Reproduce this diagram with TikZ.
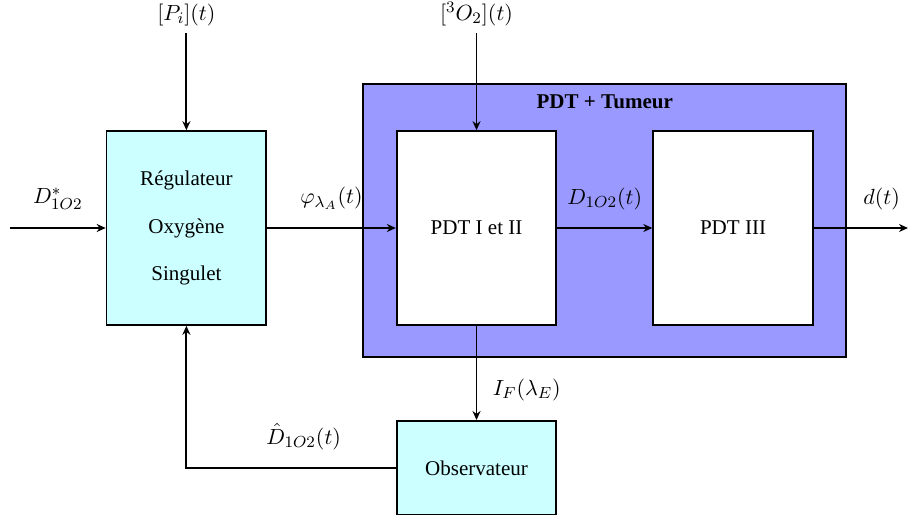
\documentclass[tikz,border=0pt,11pt]{standalone}
\usepackage{fontspec}
\setmainfont{Liberation Serif}
\usetikzlibrary{arrows.meta, positioning}
\definecolor{regcyan}{RGB}{204, 255, 255}
\definecolor{pdtblue}{RGB}{153, 153, 255}

\begin{document}
\begin{tikzpicture}[
    block/.style={rectangle, draw=black, line width=0.9pt, minimum width=2.8cm, minimum height=3.4cm, align=center, font=\fontsize{10.5}{12}\selectfont},
    arrow/.style={-{Stealth[length=4.5pt, width=4pt]}, line width=0.9pt},
]
\useasboundingbox (0,0) rectangle (15.965,-9.035);

% PDT + Tumeur
\node[rectangle, draw=black, line width=0.9pt, fill=pdtblue, minimum width=8.47cm, minimum height=4.79cm] (pdt) at (10.61,-3.87) {};
\node[font=\fontsize{10.5}{12}\selectfont\bfseries, below=2pt] (title) at (pdt.north) {PDT + Tumeur};

% Blocks
\node[block, fill=regcyan] (reg) at (3.27,-4.0) {Régulateur\\[11.5pt]Oxygène\\[11.5pt]Singulet};
\node[block, fill=white] (pdt12) at (8.36,-4.0) {PDT I et II};
\node[block, fill=white] (pdt3) at (12.86,-4.0) {PDT III};
\node[block, fill=regcyan, minimum height=1.65cm] (obs) at (8.36,-8.21) {Observateur};

% Inputs
\node[above=1.7cm of reg] (pi) {$[P_i](t)$};
\node[above=1.7cm of pdt12] (o2) {$[{}^3O_2](t)$};
\coordinate (in) at (0.175,-4.0);
\coordinate (out) at (15.93,-4.0);

\draw[arrow] (pi) -- (reg);
\draw[arrow] (o2) -- (pdt12);
\draw[arrow] (in) -- (reg) node[midway, above=5pt] {$D^*_{1O2}$};
\draw[arrow] (reg) -- (pdt12) node[midway, above=5pt] {$\varphi_{\lambda_A}(t)$};
\draw[arrow] (pdt12) -- (pdt3) node[midway, above=5pt] {$D_{1O2}(t)$};
\draw[arrow] (pdt3) -- (out) node[pos=1, above left=5pt and 0pt] {$d(t)$};

% Feedback
\draw[arrow] (pdt12) -- (obs) node[pos=0.68, right=4pt] {$I_F(\lambda_E)$};
\draw[arrow] (obs.west) -| (reg.south) node[pos=0.22, above=5pt] {$\hat{D}_{1O2}(t)$};

\end{tikzpicture}
\end{document}
